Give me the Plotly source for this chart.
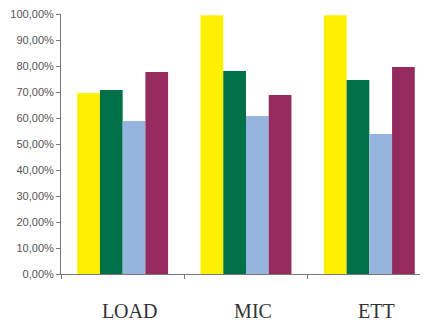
import plotly.graph_objects as go

categories = ["LOAD", "MIC", "ETT"]
series_yellow = [0.696, 0.995, 0.995]
series_green = [0.708, 0.781, 0.746]
series_blue = [0.588, 0.608, 0.538]
series_purple = [0.777, 0.688, 0.796]
colors = ["#FFF000", "#007047", "#95B5DE", "#942A5E"]

fig = go.Figure()
for vals, c in zip([series_yellow, series_green, series_blue, series_purple], colors):
    fig.add_trace(go.Bar(x=categories, y=vals, marker=dict(color=c, line=dict(width=0)), showlegend=False))

# page body has an 8px default margin, compensated in the layout margins
fig.update_layout(
    width=428, height=323,
    margin=dict(l=53, r=5, t=6, b=57, autoexpand=False),
    paper_bgcolor="white", plot_bgcolor="white",
    barmode="group", bargap=0.263, bargroupgap=0,
    separators=",.",
    font=dict(family="Liberation Sans, Arial", size=11, color="#555555"),
)
fig.update_xaxes(
    range=[-0.5, 2.5], automargin=False,
    showline=True, linecolor="#777777", linewidth=1,
    ticks="outside", tickson="boundaries", ticklen=4, tickcolor="#777777",
    tickfont=dict(family="Liberation Serif, Times New Roman", size=20, color="#333333"),
    ticklabelstandoff=19, ticklabelshift=7, ticklabeloverflow="allow",
    showgrid=False, zeroline=False, fixedrange=True,
)
fig.update_yaxes(
    range=[0, 1], dtick=0.1, tickformat=".2%", automargin=False,
    showline=True, linecolor="#777777", linewidth=1,
    ticks="outside", ticklen=4, tickcolor="#777777", ticklabeloverflow="allow",
    showgrid=False, zeroline=False,
)
fig.write_html("out.html")
